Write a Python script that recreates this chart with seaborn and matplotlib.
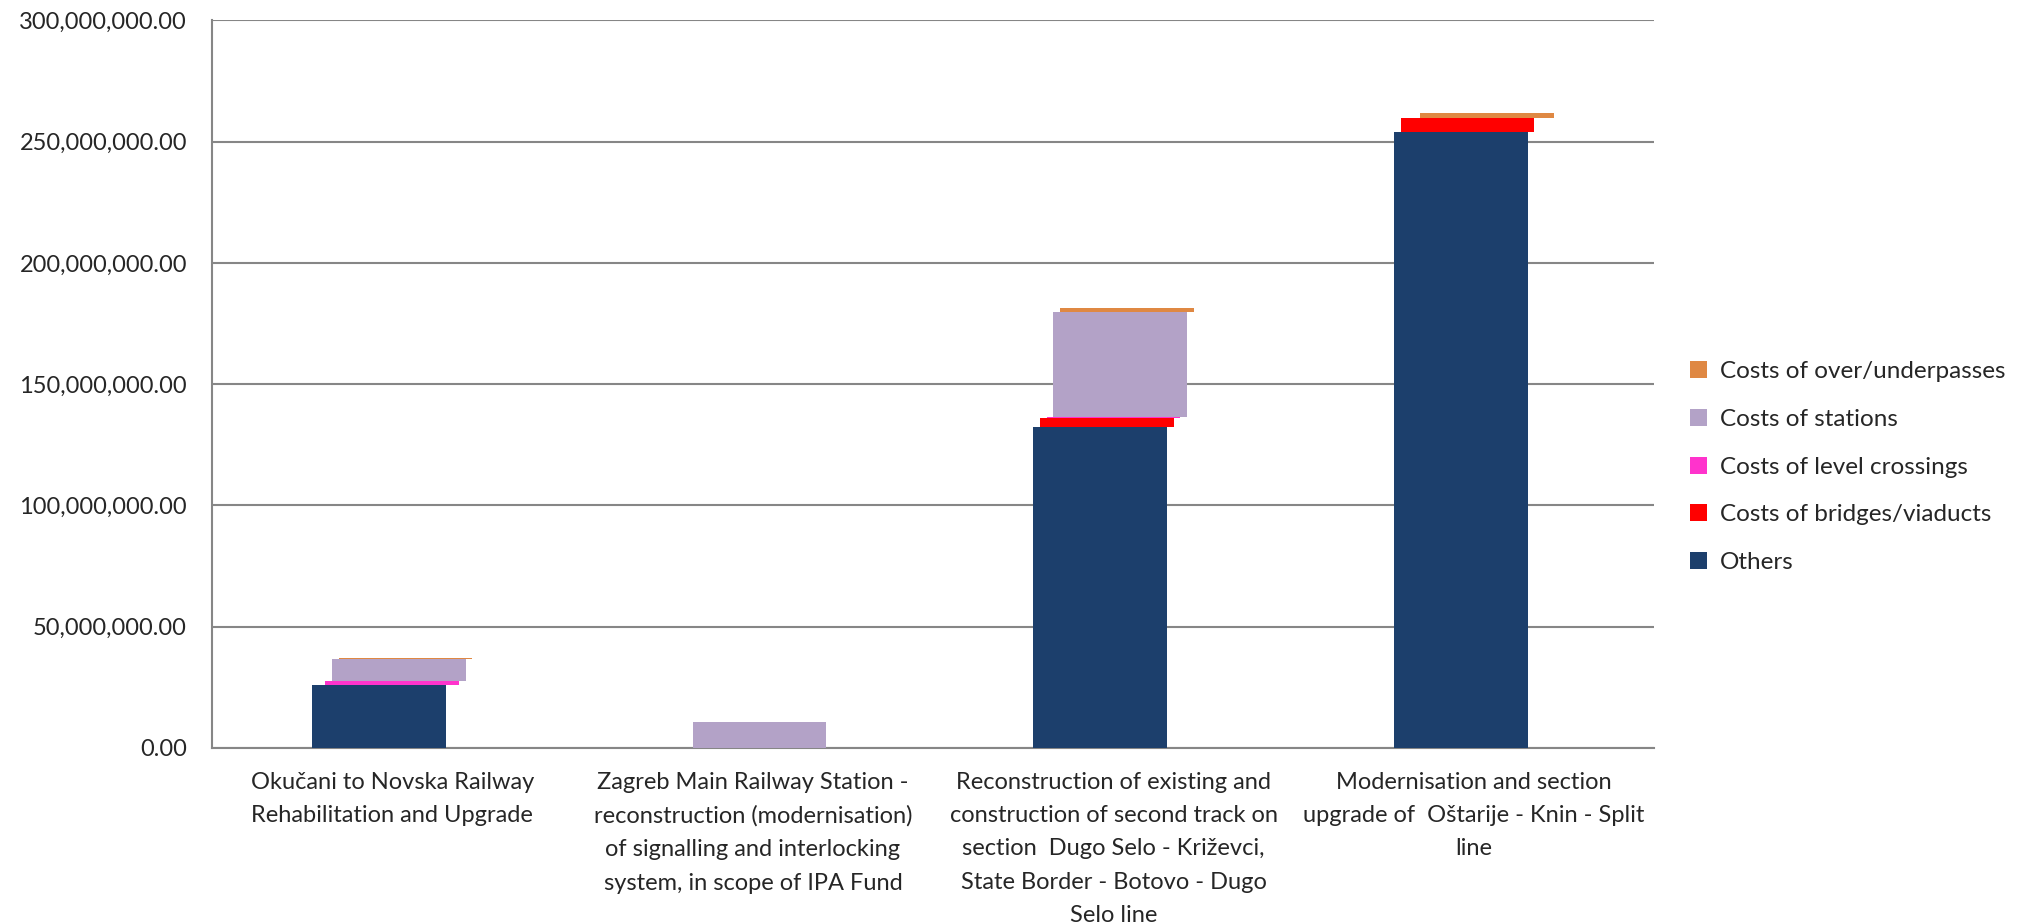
import numpy as np
import pandas as pd
import matplotlib
matplotlib.use("Agg")
import matplotlib.pyplot as plt
import seaborn as sns
from matplotlib.ticker import FuncFormatter, FixedLocator

# Data
projects = [
    "Okučani to Novska Railway\nRehabilitation and Upgrade",
    "Zagreb Main Railway Station -\nreconstruction (modernisation)\nof signalling and interlocking\nsystem, in scope of IPA Fund",
    "Reconstruction of existing and\nconstruction of second track on\nsection  Dugo Selo - Križevci,\nState Border - Botovo - Dugo\nSelo line",
    "Modernisation and section\nupgrade of  Oštarije - Knin - Split\nline",
]
others = [26.0e6, 0.0, 132.2e6, 254.0e6]
bridges = [0.0, 0.0, 3.8e6, 5.8e6]
level_crossings = [1.6e6, 0.0, 0.4e6, 0.0]
stations = [8.9e6, 10.6e6, 43.2e6, 0.0]
underpasses = [0.6e6, 0.0, 2.0e6, 1.9e6]

series_names = ["Others", "Costs of bridges/viaducts", "Costs of level crossings",
                "Costs of stations", "Costs of over/underpasses"]
series_values = [others, bridges, level_crossings, stations, underpasses]
colors = ["#1C3F6C", "#FF0000", "#FF33CC", "#B3A2C7", "#DF8843"]

sns.set_style("white")
plt.rcParams['font.family'] = ['Lato', 'DejaVu Sans']
plt.rcParams['font.size'] = 17

fig = plt.figure(figsize=(20.23, 9.24), dpi=100)
ax = fig.add_axes([0.1048, 0.1905, 0.713, 0.7875])

pos = np.arange(len(projects))
shift = 0.0184
bottom = np.zeros(len(projects))
for i, (name, vals, col) in enumerate(zip(series_names, series_values, colors)):
    df = pd.DataFrame({"x": pos + (i - 2) * shift, "y": vals})
    sns.barplot(data=df, x="x", y="y", native_scale=True, width=0.371,
                color=col, saturation=1, errorbar=None, label=name,
                bottom=bottom.copy(), linewidth=0, ax=ax, zorder=3)
    bottom = bottom + np.array(vals)

ax.set_xlim(-0.5, 3.5)
ax.set_ylim(0, 300e6)
ax.yaxis.set_major_locator(FixedLocator(np.arange(0, 300e6 + 1, 50e6)))
ax.yaxis.set_major_formatter(FuncFormatter(lambda v, p: f"{v:,.2f}"))
ax.xaxis.set_major_locator(FixedLocator([-0.5, 0.5, 1.5, 2.5, 3.5]))
ax.xaxis.set_major_formatter(FuncFormatter(lambda v, p: ""))
ax.xaxis.set_minor_locator(FixedLocator(pos))
ax.set_xticklabels(projects, minor=True)
ax.tick_params(axis="x", which="minor", length=0, pad=17)
ax.tick_params(axis="x", which="major", length=8, color="#868686", width=1.5)
ax.tick_params(axis="y", length=8, color="#868686", width=1.5, pad=10, labelsize=17)
for lab in ax.get_xticklabels(minor=True):
    lab.set_linespacing(1.73)
    lab.set_verticalalignment("top")
    lab.set_fontsize(17)

ax.grid(axis="y", color="#868686", linewidth=1.5, zorder=0)
ax.set_axisbelow(True)
for s in ["top", "right"]:
    ax.spines[s].set_visible(False)
for s in ["left", "bottom"]:
    ax.spines[s].set_color("#868686")
    ax.spines[s].set_linewidth(1.5)
ax.set_xlabel("")
ax.set_ylabel("")

handles, labels = ax.get_legend_handles_labels()
ax.legend(handles[::-1], labels[::-1], loc="center left", bbox_to_anchor=(1.025, 0.386),
          frameon=False, handlelength=0.7, handleheight=0.7, handletextpad=0.5,
          labelspacing=1.1, fontsize=17.5, borderaxespad=0, borderpad=0)

fig.savefig("out.png", dpi=100)
